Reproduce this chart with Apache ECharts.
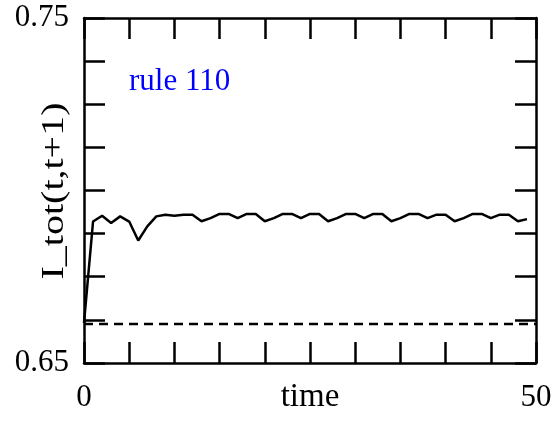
<!DOCTYPE html>
<html><head><meta charset="utf-8">
<script src="https://cdn.jsdelivr.net/npm/echarts@6/dist/echarts.min.js"></script>
<style>html,body{margin:0;padding:0;background:#fff}#c{width:557px;height:421px}</style>
</head><body><div id="c"></div>
<script>
const timeSteps = [0,1,2,3,4,5,6,7,8,9,10,11,12,13,14,15,16,17,18,19,20,21,22,23,24,25,26,27,28,29,30,31,32,33,34,35,36,37,38,39,40,41,42,43,44,45,46,47,48,49];
const itot = [0.6616,0.6910,0.6927,0.6906,0.6925,0.6910,0.6855,0.6896,0.6925,0.6930,
              0.6927,0.6930,0.6930,0.6911,0.6920,0.6932,0.6932,0.6920,0.6932,0.6932,
              0.6911,0.6920,0.6932,0.6932,0.6920,0.6932,0.6932,0.6911,0.6920,0.6932,
              0.6932,0.6920,0.6932,0.6932,0.6911,0.6920,0.6932,0.6932,0.6920,0.6930,
              0.6930,0.6911,0.6920,0.6932,0.6932,0.6920,0.6930,0.6930,0.6911,0.6917];
const baselineValue = 0.6613;
const baselineX = [0, 50];
const xTickLabels = [0, 50];
const yTickLabels = [0.65, 0.75];
const xTitle = 'time';
const yTitle = 'I_tot(t,t+1)';
const annotation = 'rule 110';

const FONT = 'Liberation Serif';
const lineData = timeSteps.map((t, i) => [t, itot[i]]);
const baseData = baselineX.map(x => [x, baselineValue]);

function fmtX(v){ return xTickLabels.some(l => Math.abs(l - v) < 1e-6) ? String(v) : ''; }
function fmtY(v){ const m = yTickLabels.find(l => Math.abs(l - v) < 1e-6); return m !== undefined ? m.toFixed(2) : ''; }

const axisCommon = {
  axisLine: {show: true, onZero: false, lineStyle: {color: '#000', width: 2.5}},
  axisTick: {show: true, inside: true, length: 21, lineStyle: {color: '#000', width: 2.5}},
  splitLine: {show: false}
};

const chart = echarts.init(document.getElementById('c'), null, {renderer: 'canvas'});
chart.setOption({
  animation: false,
  backgroundColor: '#fff',
  grid: {left: 84, right: 21, top: 18, bottom: 58, containLabel: false, outerBoundsMode: 'none'},
  xAxis: [
    Object.assign({type: 'value', min: 0, max: 50, interval: 5, position: 'bottom',
      axisLabel: {formatter: fmtX, fontFamily: FONT, fontSize: 31, color: '#000', margin: 19, showMinLabel: true, showMaxLabel: true}},
      axisCommon),
    Object.assign({type: 'value', min: 0, max: 50, interval: 5, position: 'top',
      axisLabel: {show: false}}, axisCommon)
  ],
  yAxis: [
    Object.assign({type: 'value', min: 0.65, max: 0.75, interval: 0.0125, position: 'left',
      axisLabel: {formatter: fmtY, fontFamily: FONT, fontSize: 31, color: '#000', margin: 15, showMinLabel: true, showMaxLabel: true}},
      axisCommon),
    Object.assign({type: 'value', min: 0.65, max: 0.75, interval: 0.0125, position: 'right',
      axisLabel: {show: false}}, axisCommon)
  ],
  graphic: [{
    type: 'text', left: 129, top: 66,
    style: {text: annotation, fill: '#0000ff', font: '31px "Liberation Serif"'}
  }, {
    type: 'text', x: 310, y: 397,
    style: {text: xTitle, fill: '#000', font: '33px "Liberation Serif"', align: 'center', verticalAlign: 'middle'}
  }, {
    type: 'text', x: 55, y: 191, rotation: Math.PI / 2, scaleX: 1.25,
    style: {text: yTitle, fill: '#000', font: '32px "Liberation Serif"', align: 'center', verticalAlign: 'middle'}
  }],
  series: [
    {type: 'line', data: lineData, showSymbol: false, symbol: 'none',
     lineStyle: {color: '#000', width: 2.5}, z: 3},
    {type: 'line', data: baseData, showSymbol: false, symbol: 'none',
     lineStyle: {color: '#000', width: 2.5, type: [9, 6]}, z: 2}
  ]
});
</script></body></html>
